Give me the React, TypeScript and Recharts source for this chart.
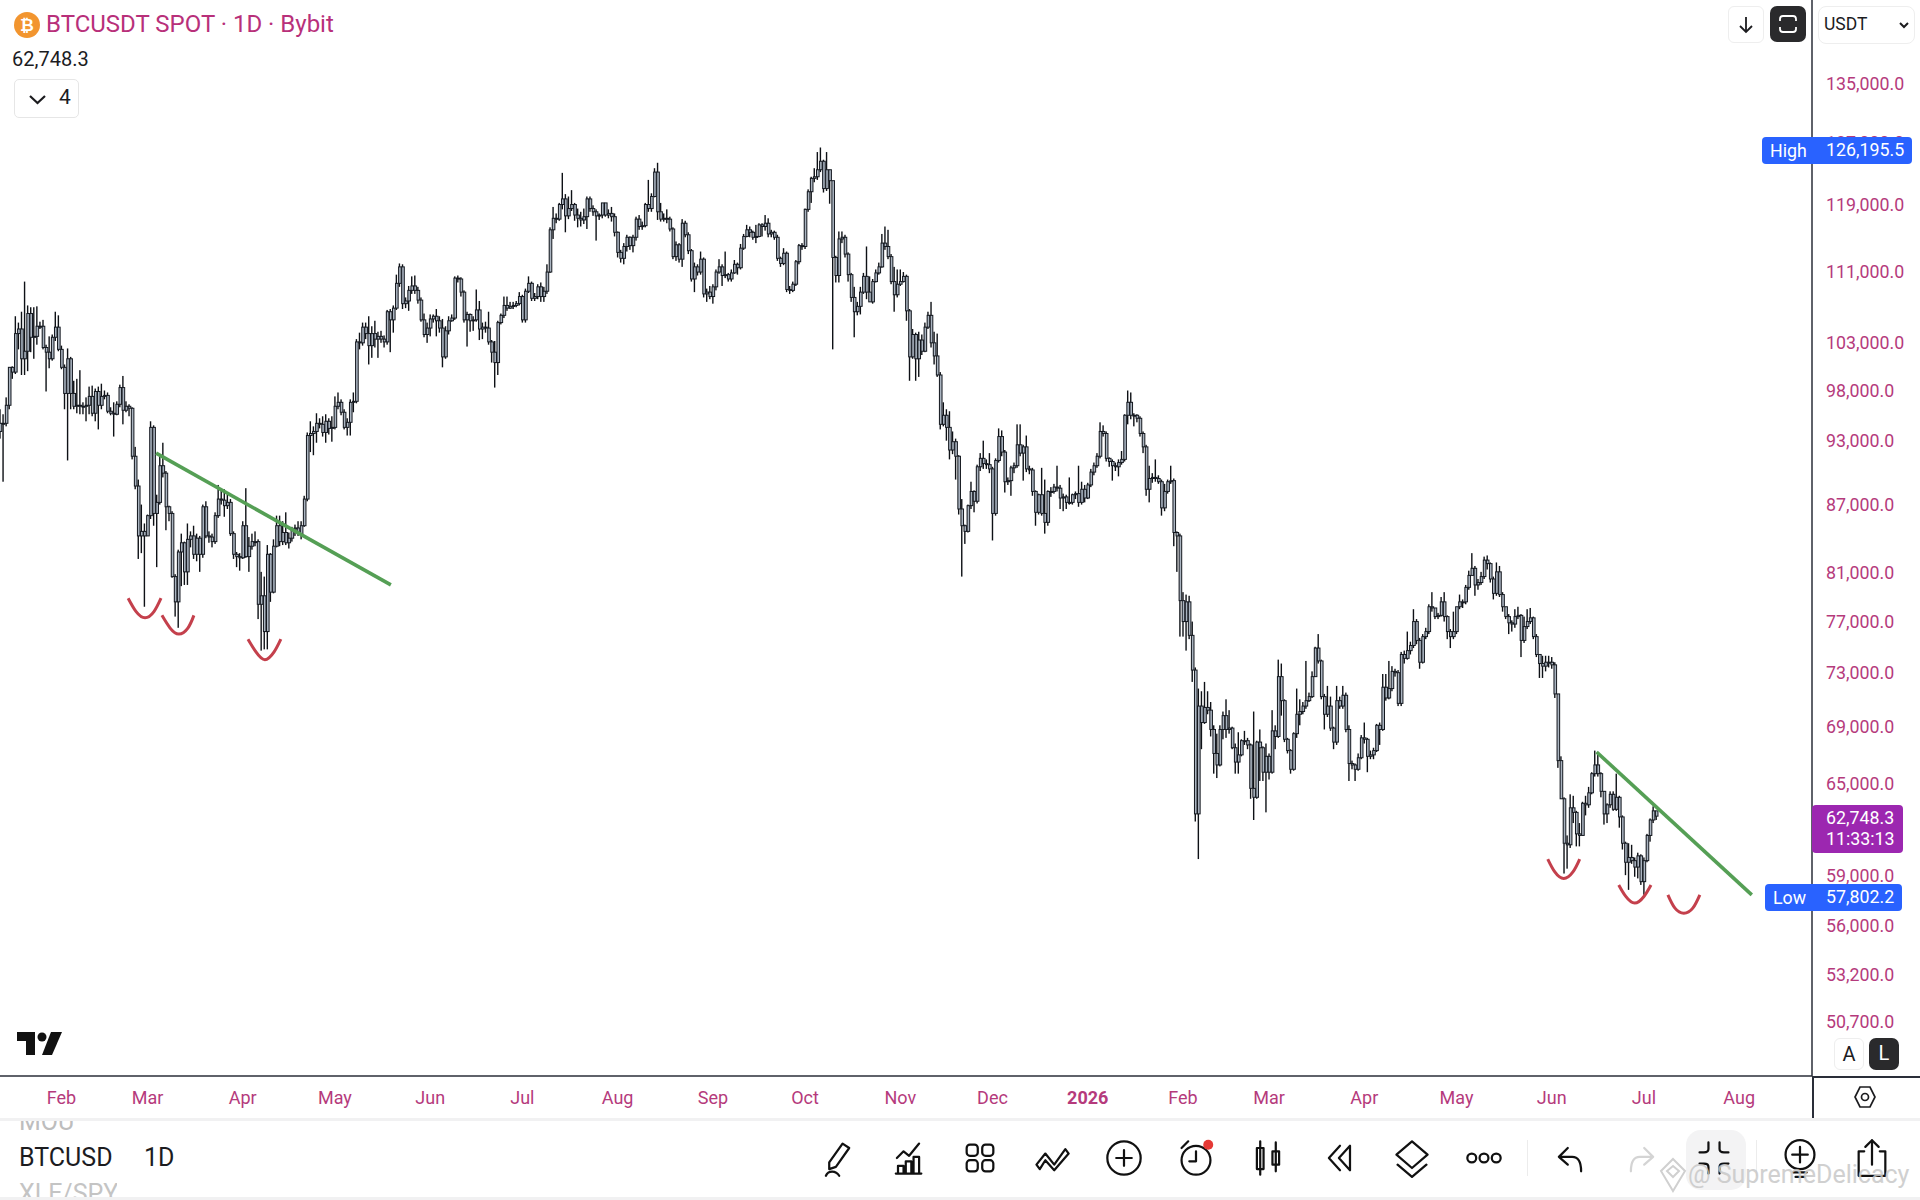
import React from "react";
import {
  ComposedChart,
  Bar,
  Line,
  XAxis,
  YAxis,
  ReferenceLine,
} from "recharts";

// daily candles, thousands of USDT
const firstOpen = 93.8;
const closes = [
  94.6,94.6,96.4,100.3,99.8,103.9,104.4,101.2,102.0,106.1,
  103.5,103.6,104.7,104.7,102.4,101.9,101.2,103.5,104.6,102.2,
  100.3,97.6,101.2,97.6,96.3,96.4,96.3,96.3,96.4,97.3,
  95.6,97.8,96.4,97.3,97.4,95.8,95.6,95.5,96.5,98.2,
  95.9,96.3,96.1,91.4,88.6,84.1,84.5,84.1,85.9,94.2,
  86.1,87.1,90.5,89.8,86.7,86.1,80.6,78.5,82.7,83.5,
  81.0,83.8,84.1,82.5,83.9,82.5,86.7,84.1,84.0,83.6,
  85.9,87.4,87.3,86.8,87.1,84.3,82.5,82.3,82.2,85.0,
  82.3,83.2,83.6,83.6,78.3,79.0,76.1,82.5,79.3,83.2,
  85.0,83.6,84.4,83.5,83.9,84.7,84.8,84.3,85.0,87.4,
  93.4,93.6,93.8,94.6,94.5,93.7,94.8,94.1,94.2,96.3,
  96.7,95.7,94.2,94.7,96.7,96.8,103.0,102.9,104.6,103.9,
  102.6,103.9,103.3,103.6,103.3,103.0,106.3,105.4,106.7,109.5,
  111.4,107.2,107.5,108.7,109.2,108.7,107.6,105.4,103.8,104.5,
  105.5,105.8,105.3,104.5,101.4,104.2,105.3,105.6,110.1,110.0,
  108.5,105.4,106.0,105.3,105.4,106.5,104.4,104.6,104.5,103.0,
  101.9,100.8,105.1,105.9,107.0,106.7,106.9,107.0,107.2,108.0,
  105.4,108.6,109.5,107.8,108.0,109.1,108.0,108.6,110.8,115.8,
  117.2,117.1,118.9,119.6,117.5,118.4,118.9,117.6,117.2,117.0,
  117.4,119.6,118.4,118.0,117.5,117.6,119.1,117.6,117.8,117.4,
  115.5,113.1,112.4,113.8,114.9,113.9,114.9,117.1,116.2,116.3,
  118.9,118.4,119.9,123.0,118.0,117.1,117.2,117.1,115.9,112.6,
  114.0,112.3,116.6,115.2,113.3,110.0,111.4,110.8,112.3,108.3,
  108.5,108.0,109.1,110.8,111.4,110.4,110.5,110.0,110.7,111.7,
  111.3,113.6,115.0,115.8,115.5,114.9,115.0,116.4,116.2,116.6,
  115.3,115.5,114.9,112.4,111.8,113.0,108.8,108.7,109.4,112.0,
  113.9,113.8,118.3,120.5,122.2,122.4,123.3,124.4,120.9,123.3,
  121.9,112.5,110.4,114.7,114.9,112.9,110.5,107.9,106.3,106.9,
  108.5,110.3,108.5,107.4,109.7,110.7,111.4,114.2,113.8,112.6,
  109.7,108.2,109.4,109.7,110.3,106.4,101.4,103.8,101.2,103.2,
  102.0,104.6,105.9,102.9,101.5,99.5,94.5,95.4,94.2,92.0,
  92.8,91.4,86.5,85.0,84.5,86.8,88.1,87.2,90.4,91.2,
  90.7,90.6,90.2,86.1,91.0,93.3,91.8,89.0,89.1,90.3,
  90.5,92.5,91.7,92.3,90.2,90.1,88.1,86.2,87.8,86.1,
  85.3,88.1,88.1,88.5,88.4,87.5,87.6,87.1,87.1,87.8,
  87.9,87.1,88.3,87.5,88.7,89.9,90.5,91.4,93.8,93.6,
  91.2,90.9,90.5,90.4,90.8,91.1,95.4,96.7,95.4,95.4,
  95.1,93.6,92.3,88.3,89.3,89.4,89.3,89.0,86.6,88.1,
  89.0,89.1,84.4,84.1,78.6,76.9,78.5,75.8,73.1,62.9,
  70.4,69.2,70.3,70.1,68.7,67.0,66.2,68.7,69.7,68.7,
  68.8,67.4,66.4,66.9,67.9,67.9,67.6,64.6,64.0,67.8,
  67.4,65.7,66.8,65.7,68.6,68.2,72.6,70.8,68.0,67.2,
  65.9,68.4,69.8,70.0,70.4,70.8,71.1,72.6,74.8,73.8,
  71.1,69.8,70.4,68.8,67.8,70.8,70.4,71.2,68.7,66.3,
  66.2,65.9,66.7,68.1,68.0,66.8,66.9,67.2,69.0,68.7,
  71.8,71.0,71.7,73.0,72.9,70.6,74.3,74.0,74.6,75.0,
  76.9,75.4,73.7,75.7,76.1,78.1,78.0,77.3,77.4,78.5,
  77.3,76.1,75.7,76.1,78.1,78.5,78.5,79.7,80.7,81.3,
  79.9,80.1,80.6,82.0,81.7,80.4,79.2,81.0,79.1,78.1,
  77.3,76.8,76.7,77.3,77.4,75.4,76.5,76.9,77.2,75.7,
  74.3,73.6,73.4,73.7,73.7,73.5,71.3,66.5,63.9,61.0,
  60.9,63.3,63.0,61.6,61.5,63.6,63.5,64.3,65.6,66.2,
  65.6,64.4,62.9,63.5,64.2,63.2,64.0,62.7,61.0,59.8,
  60.1,59.9,59.5,60.2,58.6,59.9,61.5,62.5,63.1,62.75,
];
const highs = [
  96.0,95.5,97.2,100.3,100.4,105.8,105.1,106.3,109.7,107.0,
  106.8,106.8,106.9,105.2,105.4,102.7,103.6,103.8,106.3,105.9,
  102.6,100.6,102.3,101.4,98.9,99.1,100.0,96.7,97.2,98.3,
  98.4,98.1,98.3,98.6,97.9,97.7,96.2,96.7,96.8,98.5,
  99.4,96.8,96.5,96.2,92.3,89.2,86.9,85.2,86.0,94.8,
  94.4,87.8,91.5,92.7,90.0,86.8,86.3,80.8,82.9,84.3,
  83.6,85.2,84.5,85.0,84.3,84.1,86.9,87.2,84.5,84.3,
  86.2,88.7,88.3,88.3,87.8,87.4,84.5,82.7,82.6,85.4,
  88.4,84.0,84.3,84.5,83.8,81.0,80.6,83.3,82.6,83.8,
  85.9,85.9,85.4,86.2,84.4,84.9,85.1,85.4,85.4,87.7,
  93.7,94.8,94.3,95.6,95.1,95.3,95.5,95.1,95.3,97.3,
  97.7,97.0,96.0,95.1,97.0,97.7,103.3,104.0,105.1,105.1,
  105.8,104.7,105.3,104.1,104.2,103.7,106.5,106.6,107.0,110.5,
  111.8,111.7,107.9,109.2,110.3,110.4,109.1,107.9,106.1,105.1,
  106.0,106.0,106.6,105.8,105.5,104.7,105.8,106.0,110.3,110.4,
  110.2,108.7,106.3,106.1,105.8,108.8,107.5,105.1,105.2,106.3,
  103.2,103.1,105.3,106.1,108.0,108.0,107.4,107.4,107.5,108.5,
  108.2,108.9,110.3,109.7,108.4,109.4,109.6,109.1,111.7,116.1,
  118.6,117.8,119.1,122.9,120.2,119.9,120.7,119.1,118.4,118.0,
  118.4,119.9,119.9,118.8,118.3,117.8,118.8,119.0,118.3,118.6,
  117.8,115.6,113.4,114.2,115.2,115.0,115.2,117.4,117.6,116.8,
  119.1,122.0,120.3,123.5,124.2,119.1,117.8,118.3,117.4,116.1,
  114.4,114.2,117.1,116.9,115.5,113.5,111.9,111.7,113.2,112.5,
  108.9,109.2,109.4,111.1,112.3,111.7,113.2,110.7,111.1,112.2,
  111.9,114.1,115.3,116.4,116.2,115.7,116.4,116.6,116.6,117.6,
  117.2,115.8,115.7,115.2,112.6,113.6,113.2,109.2,109.7,112.2,
  114.1,114.2,118.4,120.8,122.4,123.5,125.6,126.2,124.6,125.6,
  123.3,121.8,112.7,115.6,115.6,115.2,113.1,110.7,109.1,107.4,
  109.1,110.7,113.8,110.3,110.0,111.1,111.9,115.3,116.2,115.8,
  112.9,111.4,111.1,111.1,110.8,110.5,106.6,104.4,104.0,104.1,
  103.8,105.1,106.3,107.4,104.1,103.9,99.8,96.7,96.0,95.8,
  93.8,93.1,91.5,87.4,85.1,86.9,89.0,88.2,90.6,91.7,
  92.9,91.1,91.7,90.4,91.2,94.1,93.9,92.0,89.4,90.5,
  90.8,94.5,94.5,92.5,93.4,90.5,90.3,88.2,87.9,90.3,
  89.2,88.2,88.5,88.8,90.5,88.7,87.9,87.8,89.4,87.9,
  88.1,90.5,89.0,88.7,88.9,90.2,90.8,91.7,94.7,94.4,
  93.8,91.3,91.1,90.8,91.1,91.9,95.5,97.9,97.7,95.6,
  95.5,95.3,93.8,92.5,90.5,89.8,91.1,89.6,89.2,88.8,
  89.2,90.5,89.3,84.5,84.3,79.3,79.1,79.0,76.9,73.3,
  71.7,71.5,72.2,71.5,70.7,69.0,68.4,69.0,70.0,70.9,
  70.1,68.9,67.7,68.5,68.0,68.6,68.1,67.7,70.0,67.9,
  68.7,67.5,67.7,67.0,70.1,69.0,73.9,73.6,70.9,68.1,
  67.3,68.5,71.7,70.9,70.7,73.8,71.4,73.0,74.9,75.9,
  73.9,71.3,71.9,71.1,68.9,71.9,71.1,71.9,71.4,69.0,
  66.5,66.3,67.0,68.3,69.2,68.1,67.2,67.4,69.1,69.2,
  72.8,72.8,73.8,73.4,73.2,73.1,74.5,74.6,76.1,75.3,
  77.9,77.1,75.6,75.9,76.4,78.3,79.3,78.0,77.6,78.9,
  79.3,77.4,76.3,77.7,77.9,79.1,78.7,79.9,81.1,82.6,
  81.5,80.4,81.0,82.3,82.4,81.8,80.6,81.8,81.5,79.3,
  77.9,77.5,77.0,77.9,78.1,77.5,77.3,77.9,78.0,77.3,
  75.9,74.3,74.2,74.2,74.2,74.1,73.7,67.3,66.8,64.0,
  61.5,64.2,64.1,63.1,62.3,63.7,64.1,64.7,65.7,67.2,
  66.9,65.7,64.4,63.6,64.4,64.4,65.6,64.1,62.8,61.1,
  61.0,60.9,60.1,60.4,60.3,60.1,61.6,62.6,63.4,63.0,
];
const lows = [
  93.1,89.0,94.3,96.0,99.1,99.6,102.2,99.5,99.5,99.9,
  101.9,101.2,102.7,104.4,102.2,97.8,100.2,101.0,103.1,102.0,
  100.1,96.0,91.0,96.0,96.0,95.6,95.5,95.5,94.8,95.5,
  95.3,94.8,94.0,96.0,97.0,95.6,95.4,93.3,95.4,96.2,
  94.5,95.7,95.3,91.1,88.3,82.1,82.6,78.1,84.1,85.6,
  85.0,81.4,86.9,89.4,84.6,85.4,80.5,77.3,76.4,79.8,
  79.9,79.9,83.1,82.1,81.9,81.0,82.2,83.9,83.5,83.1,
  83.4,85.7,86.9,85.8,86.5,84.1,82.1,81.4,81.1,82.1,
  82.2,81.0,82.9,83.2,77.1,74.6,74.7,74.7,78.5,79.2,
  83.1,83.2,83.3,83.3,83.0,83.6,84.1,84.1,83.8,84.9,
  87.2,91.8,91.5,92.7,94.1,93.3,92.7,93.5,92.8,94.0,
  96.0,95.4,94.0,93.4,93.4,95.7,96.6,102.2,102.6,103.3,
  100.6,101.3,102.4,101.3,102.9,102.4,102.7,101.9,104.0,106.5,
  109.1,106.6,106.7,106.4,108.3,108.3,107.2,105.2,103.5,102.9,
  103.6,105.1,103.6,104.0,100.3,101.2,103.8,105.2,105.4,109.6,
  108.0,105.1,102.5,104.1,104.2,105.2,103.2,103.3,104.0,102.7,
  100.8,98.2,99.5,104.9,105.6,106.4,106.6,106.6,106.8,107.0,
  105.1,105.1,108.4,107.5,107.5,107.7,107.4,107.4,108.3,110.7,
  114.7,116.6,116.9,118.3,115.5,117.1,118.1,116.9,116.1,116.2,
  116.5,115.9,118.0,117.5,114.5,117.0,117.2,117.4,117.2,116.8,
  115.0,112.5,111.9,111.7,113.2,113.4,113.1,114.5,115.8,115.8,
  116.1,118.0,118.0,119.8,117.0,116.8,116.8,116.6,115.6,112.3,
  112.1,111.9,111.4,114.9,112.9,109.7,108.5,110.4,110.5,107.9,
  107.4,107.7,107.2,108.7,110.6,109.2,110.1,109.7,109.7,110.6,
  110.5,111.1,113.4,114.9,114.9,114.6,114.2,114.9,115.0,115.7,
  114.9,114.9,114.6,112.1,111.4,111.6,108.5,108.3,108.5,109.2,
  111.7,113.4,113.5,118.0,119.1,121.7,122.0,123.0,120.4,120.6,
  119.0,102.2,109.6,109.6,114.2,112.5,109.7,107.4,103.5,105.9,
  106.0,108.3,107.7,107.4,107.2,109.6,110.5,111.3,113.4,112.3,
  109.4,106.3,107.9,109.2,109.6,105.3,98.9,101.2,98.9,99.3,
  101.6,101.9,104.4,102.4,100.6,99.3,94.0,94.3,92.9,91.1,
  91.6,89.2,86.0,80.6,83.4,84.4,86.5,86.2,87.0,90.0,
  90.2,90.2,89.8,83.7,85.9,90.8,91.4,88.0,88.7,87.7,
  89.8,90.3,91.4,89.1,89.9,89.7,87.7,85.0,86.0,85.9,
  84.3,85.0,87.6,87.9,88.1,86.5,86.3,86.5,86.9,86.9,
  87.4,86.7,86.9,87.1,87.4,88.5,89.6,90.3,91.2,93.3,
  90.9,90.4,89.1,90.0,89.5,90.6,90.9,94.5,95.0,94.3,
  94.7,93.3,91.7,87.7,87.1,88.9,89.0,88.8,85.9,86.3,
  87.9,88.8,83.2,81.0,75.7,75.7,74.6,75.5,72.2,62.4,
  60.0,67.3,69.1,69.8,68.2,65.6,65.3,66.1,68.0,68.1,
  68.4,67.3,65.6,65.6,66.8,67.6,67.3,63.9,62.5,63.9,
  65.1,65.1,63.0,65.2,65.6,67.3,68.1,69.7,67.8,67.0,
  65.6,65.8,68.1,69.0,69.8,70.2,70.7,71.0,72.6,73.6,
  70.9,68.7,69.6,68.6,67.3,67.6,70.2,70.2,68.5,65.1,
  65.9,65.1,65.8,66.6,67.7,65.7,66.6,66.6,67.1,67.6,
  68.6,70.8,70.9,71.5,72.6,70.4,70.4,73.6,73.9,74.3,
  74.8,75.1,73.2,73.6,75.5,75.9,77.7,77.1,77.1,77.3,
  76.9,75.5,74.8,75.5,75.9,77.9,78.0,78.3,79.5,80.9,
  79.0,79.5,79.9,80.4,81.2,80.1,78.7,79.0,78.9,77.7,
  77.1,75.9,76.1,76.4,77.1,74.1,75.2,76.3,76.7,75.5,
  74.1,72.5,72.5,73.0,73.3,73.2,71.0,66.0,63.9,59.1,
  59.4,60.7,62.3,60.8,60.8,61.5,62.8,63.3,64.2,65.4,
  65.4,64.0,62.2,62.3,63.3,63.1,63.1,62.0,60.6,59.0,
  58.1,59.7,58.9,58.8,58.4,57.8,59.8,61.1,62.3,62.5,
];

const priceTicks = [135000, 127000, 119000, 111000, 103000, 98000, 93000, 87000, 81000, 77000, 73000, 69000, 65000, 59000, 56000, 53200, 50700];
const monthDays = [20, 48, 79, 109, 140, 170, 201, 232, 262, 293, 323, 354, 385, 413, 444, 474, 505, 535, 566];
const monthLabels = ["Feb", "Mar", "Apr", "May", "Jun", "Jul", "Aug", "Sep", "Oct", "Nov", "Dec", "2026", "Feb", "Mar", "Apr", "May", "Jun", "Jul", "Aug"];

// hand drawn marks, day / thousands of USDT
const trendOne = [{ x: 50.8, y: 91700 }, { x: 127.2, y: 79900 }];
const trendTwo = [{ x: 519.6, y: 67100 }, { x: 570.1, y: 57800 }];
const smiles = [
  [[41.7, 78.8], [44.3, 77.7], [47.2, 77.2], [50.1, 77.7], [52.4, 78.8]],
  [[52.7, 77.4], [55.3, 76.4], [58.2, 75.9], [61.2, 76.4], [63.1, 77.4]],
  [[80.7, 75.5], [83.3, 74.5], [86.2, 73.9], [89.2, 74.5], [91.4, 75.5]],
  [[503.7, 60.0], [506.0, 59.2], [508.9, 58.8], [511.9, 59.2], [514.1, 60.0]],
  [[526.8, 58.4], [529.1, 57.7], [532.0, 57.3], [535.0, 57.7], [537.3, 58.4]],
  [[542.8, 57.8], [545.1, 57.0], [548.0, 56.7], [550.9, 57.0], [553.2, 57.8]],
];

const rows = closes.map((c, i) => {
  const open = i === 0 ? firstOpen : closes[i - 1];
  return {
    day: i,
    wick: [lows[i] * 1000, highs[i] * 1000],
    body: [Math.min(open, c) * 1000, Math.max(open, c) * 1000],
  };
});

const PINK = "#b53a7c";
const INK = "#1c1c1f";
const AXIS = "#2a2e39";

function CandleWick(props: any) {
  const { x, y, width, height } = props;
  return <rect x={x + width / 2 - 0.7} y={y} width={1.4} height={height} fill="#0e1116" />;
}

function CandleBody(props: any) {
  const { x, y, width, height } = props;
  return (
    <rect x={x + width / 2 - 1.3} y={y} width={2.6} height={Math.max(height, 1)} fill="#aab4c0" stroke="#14181f" strokeWidth={1} />
  );
}

function MonthTick(props: any) {
  const { x, y, payload } = props;
  const label = monthLabels[monthDays.indexOf(payload.value)];
  return (
    <text x={x} y={y} dy={6} textAnchor="middle" fill={PINK} fontSize={18} fontWeight={label === "2026" ? 700 : 400}>
      {label}
    </text>
  );
}

function Badge({ left, top, width, height, bg, lines, side }: any) {
  return (
    <div style={{ position: "absolute", left, top, width, height, background: bg, borderRadius: 4, color: "#fff", fontSize: 17.8 }}>
      {side && <span style={{ position: "absolute", left: 8, top: 3 }}>{side}</span>}
      {lines.map((t: string, i: number) => (
        <div key={t} style={{ position: "absolute", left: 1826 - left, top: 2 + i * 21, whiteSpace: "nowrap" }}>{t}</div>
      ))}
    </div>
  );
}

function Tool({ cx, children, muted }: any) {
  return (
    <svg width={40} height={40} viewBox="0 0 36 36" style={{ position: "absolute", left: cx - 20, top: 1138 }}
      fill="none" stroke={muted ? "#d4d4d4" : "#111"} strokeWidth={2} strokeLinecap="round" strokeLinejoin="round">
      {children}
    </svg>
  );
}

export default function App() {
  return (
    <div style={{ position: "absolute", left: 0, top: 0, width: 1920, height: 1200, background: "#fff", overflow: "hidden", fontFamily: "Roboto, sans-serif" }}>
      <ComposedChart width={1920} height={1118} data={rows} margin={{ top: 0, right: 0, bottom: 0, left: 0 }}>
        <XAxis
          dataKey="day"
          type="number"
          domain={[0, 589.7]}
          allowDataOverflow
          ticks={monthDays}
          interval={0}
          height={42}
          tickLine={false}
          tickSize={0}
          tickMargin={22}
          stroke={AXIS}
          strokeWidth={1.5}
          tick={<MonthTick />}
        />
        <XAxis xAxisId="body" dataKey="day" type="number" domain={[0, 589.7]} allowDataOverflow hide />
        <YAxis
          orientation="right"
          scale="log"
          domain={[47830, 147230]}
          allowDataOverflow
          ticks={priceTicks}
          interval={0}
          width={108}
          tickLine={false}
          tickSize={0}
          tickMargin={14}
          stroke={AXIS}
          strokeWidth={1.5}
          tick={{ fill: PINK, fontSize: 17.8, textAnchor: "start", dy: 1 }}
          tickFormatter={(v: number) => v.toLocaleString("en-US", { minimumFractionDigits: 1 })}
        />
        <YAxis yAxisId="body" orientation="right" scale="log" domain={[47830, 147230]} allowDataOverflow hide />
        <Bar dataKey="wick" barSize={2} shape={<CandleWick />} isAnimationActive={false} />
        <Bar dataKey="body" xAxisId="body" yAxisId="body" barSize={2} shape={<CandleBody />} isAnimationActive={false} />
        <ReferenceLine segment={trendOne} stroke="#559f55" strokeWidth={3.6} ifOverflow="visible" />
        <ReferenceLine segment={trendTwo} stroke="#559f55" strokeWidth={3.6} ifOverflow="visible" />
        {smiles.map((pts, i) => (
          <Line
            key={i}
            data={pts.map(([day, k]) => ({ day, price: k * 1000 }))}
            dataKey="price"
            type="natural"
            dot={false}
            activeDot={false}
            stroke="#c4404c"
            strokeWidth={3}
            legendType="none"
            isAnimationActive={false}
          />
        ))}
      </ComposedChart>

      {/* axis extensions */}
      <div style={{ position: "absolute", left: 1812, top: 1076, width: 108, height: 1.5, background: AXIS }} />
      <div style={{ position: "absolute", left: 1812, top: 1076, width: 1.5, height: 42, background: AXIS }} />

      {/* header */}
      <svg width={28} height={28} style={{ position: "absolute", left: 13, top: 11 }}>
        <circle cx={14} cy={14} r={13} fill="#f2952f" />
        <text x={14} y={20} textAnchor="middle" fontSize={17} fontWeight={700} fill="#fff">₿</text>
      </svg>
      <div style={{ position: "absolute", left: 46, top: 10, fontSize: 24, color: "#b8307a", whiteSpace: "nowrap" }}>BTCUSDT SPOT · 1D · Bybit</div>
      <div style={{ position: "absolute", left: 12, top: 47, fontSize: 20, color: INK }}>62,748.3</div>
      <div style={{ position: "absolute", left: 14, top: 79, width: 63, height: 37, border: "1px solid #e6e6e6", borderRadius: 5 }}>
        <svg width={20} height={14} style={{ position: "absolute", left: 13, top: 13 }} fill="none" stroke={INK} strokeWidth={2.2}>
          <path d="M2 3 L9.5 10 L17 3" />
        </svg>
        <span style={{ position: "absolute", left: 44, top: 5, fontSize: 21, color: INK }}>4</span>
      </div>

      {/* top right buttons */}
      <div style={{ position: "absolute", left: 1728, top: 6, width: 34, height: 35, border: "1px solid #eee", borderRadius: 6 }}>
        <svg width={20} height={20} style={{ position: "absolute", left: 7, top: 8 }} fill="none" stroke={INK} strokeWidth={1.8}>
          <path d="M10 2 V17 M4 11 L10 17 L16 11" />
        </svg>
      </div>
      <div style={{ position: "absolute", left: 1770, top: 6, width: 36, height: 36, background: "#2a2a2c", borderRadius: 7 }}>
        <svg width={22} height={22} style={{ position: "absolute", left: 7, top: 7 }} fill="none" stroke="#fff" strokeWidth={1.8}>
          <path d="M3 8 V6 Q3 3 6 3 H16 Q19 3 19 6 V8 M3 14 V16 Q3 19 6 19 H16 Q19 19 19 16 V14" />
        </svg>
      </div>
      <div style={{ position: "absolute", left: 1818, top: 6, width: 95, height: 36, border: "1px solid #eee", borderRadius: 8, background: "#fff" }}>
        <span style={{ position: "absolute", left: 5, top: 7, fontSize: 17.5, color: INK }}>USDT</span>
        <svg width={12} height={8} style={{ position: "absolute", left: 79, top: 15 }} fill="none" stroke={INK} strokeWidth={2}>
          <path d="M2 1 L6 5 L10 1" />
        </svg>
      </div>

      {/* price badges */}
      <Badge left={1762} top={137} width={150} height={27} bg="#2962ff" side="High" lines={["126,195.5"]} />
      <Badge left={1812} top={805} width={91} height={48} bg="#9c27b0" lines={["62,748.3", "11:33:13"]} />
      <Badge left={1765} top={884} width={137} height={27} bg="#2962ff" side="Low" lines={["57,802.2"]} />

      {/* logo */}
      <svg width={46} height={24} style={{ position: "absolute", left: 17, top: 1032 }} fill="#111">
        <path d="M0 0 H18 V23 H9 V9 H0 Z" />
        <circle cx={25} cy={5} r={4.5} />
        <path d="M34 0 H45 L35 23 H25 Z" />
      </svg>

      {/* A / L */}
      <div style={{ position: "absolute", left: 1834, top: 1038, width: 28, height: 30, border: "1px solid #eee", borderRadius: 6, textAlign: "center", lineHeight: "30px", fontSize: 20, color: INK }}>A</div>
      <div style={{ position: "absolute", left: 1869, top: 1038, width: 30, height: 32, background: "#2a2a2c", borderRadius: 7, textAlign: "center", lineHeight: "31px", fontSize: 20, color: "#fff" }}>L</div>
      <svg width={26} height={26} style={{ position: "absolute", left: 1852, top: 1084 }} fill="none" stroke={INK} strokeWidth={1.7}>
        <path d="M8 3 H18 L23 13 L18 23 H8 L3 13 Z" />
        <circle cx={13} cy={13} r={3.5} />
      </svg>

      {/* bottom toolbar */}
      <div style={{ position: "absolute", left: 0, top: 1118, width: 1920, height: 3, background: "#f1f1f2" }} />
      <div style={{ position: "absolute", left: 0, top: 1197, width: 1920, height: 3, background: "#f1f1f2" }} />
      <div style={{ position: "absolute", left: 0, top: 1121, width: 130, height: 76, overflow: "hidden" }}>
        <div style={{ position: "absolute", left: 19, top: -14, fontSize: 25, color: "#bdbdbd" }}>MOU</div>
        <div style={{ position: "absolute", left: 19, top: 58, fontSize: 25, color: "#c4c4c4", width: 98, overflow: "hidden", whiteSpace: "nowrap" }}>XLE/SPY</div>
        <div style={{ position: "absolute", left: 19, top: 22, fontSize: 25, color: INK, whiteSpace: "nowrap" }}>BTCUSD</div>
      </div>
      <div style={{ position: "absolute", left: 144, top: 1143, fontSize: 25, color: INK }}>1D</div>

      <div style={{ position: "absolute", left: 1686, top: 1130, width: 60, height: 60, borderRadius: 15, background: "#f3f3f4" }} />
      <div style={{ position: "absolute", left: 1527, top: 1140, width: 1, height: 36, background: "#ececec" }} />
      <div style={{ position: "absolute", left: 1756, top: 1140, width: 1, height: 36, background: "#ececec" }} />

      <Tool cx={837}><path d="M11 22 L23 5 L29 9 L17 26 L11 28 Z M8 34 C10 29 17 29 20 34" /></Tool>
      <Tool cx={908}><path d="M7 32 H30 M9 32 V25 H14 V32 M16 32 V21 H21 V32 M23 32 V17 H28 V32 M8 18 L14 12 L19 16 L28 5" /></Tool>
      <Tool cx={980}>
        <rect x={6} y={6} width={10} height={10} rx={3} />
        <rect x={20} y={6} width={10} height={10} rx={3} />
        <rect x={6} y={20} width={10} height={10} rx={3} />
        <rect x={20} y={20} width={10} height={10} rx={3} />
      </Tool>
      <Tool cx={1052}><path d="M4 24 L12 14 L20 24 L30 10 L33 14 L20 29 L12 20 L7 28 Z" /></Tool>
      <Tool cx={1124}><circle cx={18} cy={18} r={15} /><path d="M18 11 V25 M11 18 H25" /></Tool>
      <Tool cx={1196}>
        <circle cx={18} cy={20} r={13} />
        <path d="M18 12 V21 H12 M5 9 L11 3" />
        <circle cx={29} cy={6} r={4.5} fill="#e53935" stroke="none" />
      </Tool>
      <Tool cx={1268}><rect x={8} y={9} width={6} height={19} /><path d="M11 3 V33 M25 4 V30" /><rect x={22} y={12} width={6} height={12} /></Tool>
      <Tool cx={1340}><path d="M18 7 L8 18 L18 29 M27 7 L17 18 L27 29 V7" /></Tool>
      <Tool cx={1412}><path d="M18 3 L32 15 L18 27 L4 15 Z M5 24 L18 35 L31 24" /></Tool>
      <Tool cx={1484}><circle cx={7} cy={18} r={4} /><circle cx={18} cy={18} r={4} /><circle cx={29} cy={18} r={4} /></Tool>
      <Tool cx={1570}><path d="M16 9 L8 17 L16 24 M8 17 H20 C26 17 28 22 28 30" /></Tool>
      <Tool cx={1642} muted><path d="M20 9 L28 17 L20 24 M28 17 H16 C10 17 8 22 8 30" /></Tool>
      <Tool cx={1714}><path d="M13 4 V10 Q13 13 9 13 H5 M23 4 V10 Q23 13 27 13 H31 M13 32 V26 Q13 23 9 23 H5 M23 32 V26 Q23 23 27 23 H31" /></Tool>
      <Tool cx={1800}><circle cx={18} cy={15} r={13} /><path d="M18 8 V22 M11 15 H25 M12 31 H24 M14 35 H22" /></Tool>
      <Tool cx={1872}><path d="M11 12 H6 V34 H30 V12 H25 M18 24 V2 M12 8 L18 2 L24 8" /></Tool>

      <svg width={28} height={36} style={{ position: "absolute", left: 1659, top: 1157 }} fill="none" stroke="#d0d0d0" strokeWidth={2}>
        <path d="M14 2 L26 14 L14 34 L2 14 Z M14 9 L20 14 L14 20 L8 14 Z" />
      </svg>
      <div style={{ position: "absolute", left: 1688, top: 1160, fontSize: 25, color: "#c8c8c8", opacity: 0.85, whiteSpace: "nowrap" }}>@ SupremeDelicacy</div>
    </div>
  );
}
